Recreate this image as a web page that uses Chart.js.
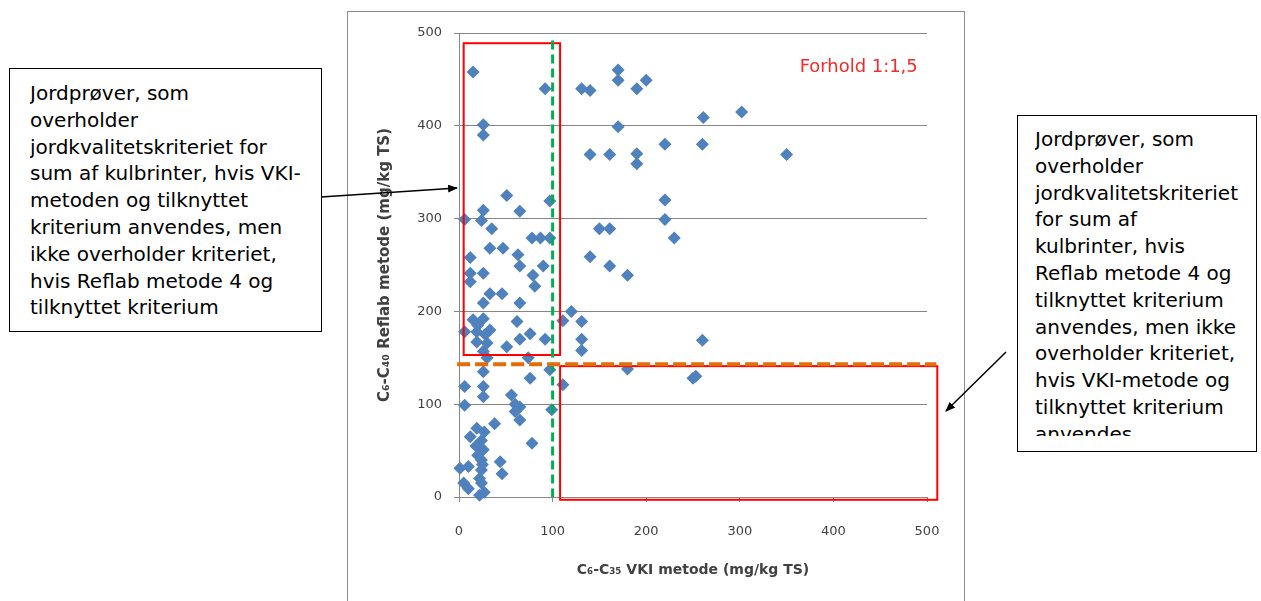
<!DOCTYPE html>
<html>
<head>
<meta charset="utf-8">
<script src="https://cdn.jsdelivr.net/npm/chart.js@4.4.1/dist/chart.umd.min.js"></script>
<style>
  body { margin: 0; background: #fff; width: 1261px; height: 601px; overflow: hidden; position: relative; font-family: 'DejaVu Sans', sans-serif; }
  #frame { position: absolute; left: 347px; top: 11px; width: 618px; height: 620px; border: 1px solid #8c8c8c; box-sizing: border-box; }
  #chart-wrap { position: absolute; left: 0; top: 0; width: 1261px; height: 601px; }
  .note { position: absolute; border: 1.5px solid #000; background: #fff; box-sizing: border-box; font-size: 20px; color: #000; line-height: 26.8px; }
  .note .txt { overflow: hidden; white-space: nowrap; }
  #note-left { left: 9px; top: 68px; width: 313px; height: 264px; padding: 11px 0 0 20px; }
  #note-right { left: 1017px; top: 115px; width: 240px; height: 337px; padding: 10px 0 0 17px; }
  #note-right .txt { height: 310px; }
  #arrows { position: absolute; left: 0; top: 0; }
</style>
</head>
<body>
<div id="frame"></div>
<div id="chart-wrap"><canvas id="scatterChart"></canvas></div>

<div class="note" id="note-left"><div class="txt">Jordprøver, som<br>overholder<br>jordkvalitetskriteriet for<br>sum af kulbrinter, hvis VKI-<br>metoden og tilknyttet<br>kriterium anvendes, men<br>ikke overholder kriteriet,<br>hvis Reflab metode 4 og<br>tilknyttet kriterium</div></div>

<div class="note" id="note-right"><div class="txt">Jordprøver, som<br>overholder<br>jordkvalitetskriteriet<br>for sum af<br>kulbrinter, hvis<br>Reflab metode 4 og<br>tilknyttet kriterium<br>anvendes, men ikke<br>overholder kriteriet,<br>hvis VKI-metode og<br>tilknyttet kriterium<br>anvendes</div></div>

<svg id="arrows" width="1261" height="601">
  <defs>
    <marker id="head" markerWidth="10" markerHeight="8" refX="9" refY="4" orient="auto" markerUnits="userSpaceOnUse">
      <path d="M0,0 L10,4 L0,8 z" fill="#000"></path>
    </marker>
  </defs>
  <line x1="321" y1="197" x2="457" y2="188" stroke="#000" stroke-width="1.5" marker-end="url(#head)"></line>
  <line x1="1006" y1="352" x2="946" y2="411" stroke="#000" stroke-width="1.5" marker-end="url(#head)"></line>
</svg>

<script>
// axis ticks
const xTicks = [0, 100, 200, 300, 400, 500];
const yTicks = [0, 100, 200, 300, 400, 500];

// C6-C35 VKI metode (x) and C6-C40 Reflab metode (y), mg/kg TS
const vkiValues = [
  15, 92, 26, 26, 131, 140, 170, 170, 190, 200, 170, 261, 302, 140, 161, 190, 190, 220, 260, 350,
  220, 51, 97, 26, 65, 6, 24, 220, 35, 78, 87, 97, 33, 47, 12, 63, 65, 90, 12, 26,
  12, 79, 81, 33, 46, 26, 65, 120, 150, 161, 230, 140, 161, 180, 111, 131, 131, 131, 260, 6,
  15, 26, 19, 33, 19, 30, 62, 76, 92, 65, 51, 26, 74, 180, 250, 253, 111, 26, 97, 76,
  6, 26, 26, 6, 56, 65, 60, 65, 99, 38, 19, 12, 24, 78, 26, 24, 44, 1, 24, 46,
  5, 24, 10, 22, 27, 22, 25, 20, 27, 18, 10, 60, 30, 20, 28
];
const reflabValues = [
  458, 440, 401, 390, 440, 438, 460, 449, 440, 449, 399, 409, 415, 369, 369, 370, 359, 380, 380, 369,
  320, 325, 319, 309, 308, 299, 298, 299, 289, 279, 279, 279, 268, 268, 258, 261, 249, 249, 241, 241,
  232, 239, 227, 219, 219, 209, 209, 200, 289, 289, 279, 259, 249, 239, 190, 189, 170, 158, 169, 178,
  191, 192, 178, 180, 167, 166, 189, 176, 170, 170, 162, 157, 150, 138, 128, 130, 121, 135, 137, 128,
  119, 119, 108, 99, 110, 97, 92, 83, 94, 79, 74, 65, 61, 58, 51, 40, 38, 31, 29, 25,
  15, 15, 9, 2, 5, 20, 35, 45, 70, 55, 33, 100, 150, 185, 175
];

// criteria limits and marked regions (data units)
const vkiLimit = 100;
const reflabLimit = 143;
const regionReflabOnly = { x0: 5, x1: 108, y0: 153, y1: 489 };
const regionVkiOnly = { x0: 108, x1: 511, y0: -3, y1: 141 };
const ratioLabel = 'Forhold 1:1,5';

const points = vkiValues.map((v, i) => ({ x: v, y: reflabValues[i] }));

const guidePlugin = {
  id: 'guides',
  afterDatasetsDraw(chart) {
    const { ctx, scales: { x, y } } = chart;
    ctx.save();

    // red region boxes
    ctx.strokeStyle = '#ff0000';
    ctx.lineWidth = 2;
    [regionReflabOnly, regionVkiOnly].forEach(r => {
      const left = x.getPixelForValue(r.x0);
      const right = x.getPixelForValue(r.x1);
      const top = y.getPixelForValue(r.y1);
      const bottom = y.getPixelForValue(r.y0);
      ctx.strokeRect(left, top, right - left, bottom - top);
    });

    // VKI limit (green dashed)
    ctx.strokeStyle = '#00b050';
    ctx.lineWidth = 3;
    ctx.setLineDash([9, 5]);
    ctx.beginPath();
    ctx.moveTo(x.getPixelForValue(vkiLimit), y.getPixelForValue(492));
    ctx.lineTo(x.getPixelForValue(vkiLimit), y.getPixelForValue(0));
    ctx.stroke();

    // Reflab limit (orange dashed)
    ctx.strokeStyle = '#e46c0a';
    ctx.lineWidth = 4;
    ctx.setLineDash([13, 5]);
    ctx.beginPath();
    ctx.moveTo(x.getPixelForValue(-2), y.getPixelForValue(reflabLimit));
    ctx.lineTo(x.getPixelForValue(510), y.getPixelForValue(reflabLimit));
    ctx.stroke();

    // ratio label
    ctx.setLineDash([]);
    ctx.fillStyle = '#f32a2a';
    ctx.font = '18px "DejaVu Sans", sans-serif';
    ctx.textAlign = 'center';
    ctx.textBaseline = 'middle';
    ctx.fillText(ratioLabel, x.getPixelForValue(427), y.getPixelForValue(463), 118);
    ctx.restore();
  }
};

const axisColor = '#868686';
const tickFont = { family: 'DejaVu Sans', size: 13 };

new Chart(document.getElementById('scatterChart'), {
  type: 'scatter',
  data: {
    datasets: [{
      data: points,
      pointStyle: 'rectRot',
      pointRadius: 6.5,
      pointHoverRadius: 6.5,
      backgroundColor: '#4f81bd',
      borderColor: '#4f81bd',
      borderWidth: 0,
      clip: false
    }]
  },
  options: {
    responsive: true,
    maintainAspectRatio: false,
    animation: false,
    layout: { padding: { left: 347, right: 334, top: 33, bottom: 0 } },
    plugins: { legend: { display: false }, tooltip: { enabled: false } },
    scales: {
      x: {
        type: 'linear',
        min: 0,
        max: 500,
        afterBuildTicks: s => { s.ticks = xTicks.map(v => ({ value: v })); },
        afterFit: s => { s.height = 104; },
        grid: { drawOnChartArea: false, drawTicks: true, tickLength: 5, color: axisColor },
        border: { display: true, color: axisColor },
        ticks: { color: '#404040', font: tickFont, padding: 22 },
        title: {
          display: true,
          text: 'C₆-C₃₅ VKI metode (mg/kg TS)',
          color: '#404040',
          font: { family: 'DejaVu Sans', size: 14, weight: 'bold' },
          padding: { top: 0, bottom: 22 }
        }
      },
      y: {
        type: 'linear',
        min: 0,
        max: 500,
        afterBuildTicks: s => { s.ticks = yTicks.map(v => ({ value: v })); },
        afterFit: s => { s.width = 112; },
        grid: { color: axisColor, tickLength: 5 },
        border: { display: true, color: axisColor },
        ticks: { color: '#404040', font: tickFont, padding: 12 },
        title: {
          display: true,
          text: 'C₆-C₄₀ Reflab metode (mg/kg TS)',
          color: '#404040',
          font: { family: 'DejaVu Sans', size: 15, weight: 'bold' },
          padding: { top: 29, bottom: 0 }
        }
      }
    }
  },
  plugins: [guidePlugin]
});
</script>
</body>
</html>
